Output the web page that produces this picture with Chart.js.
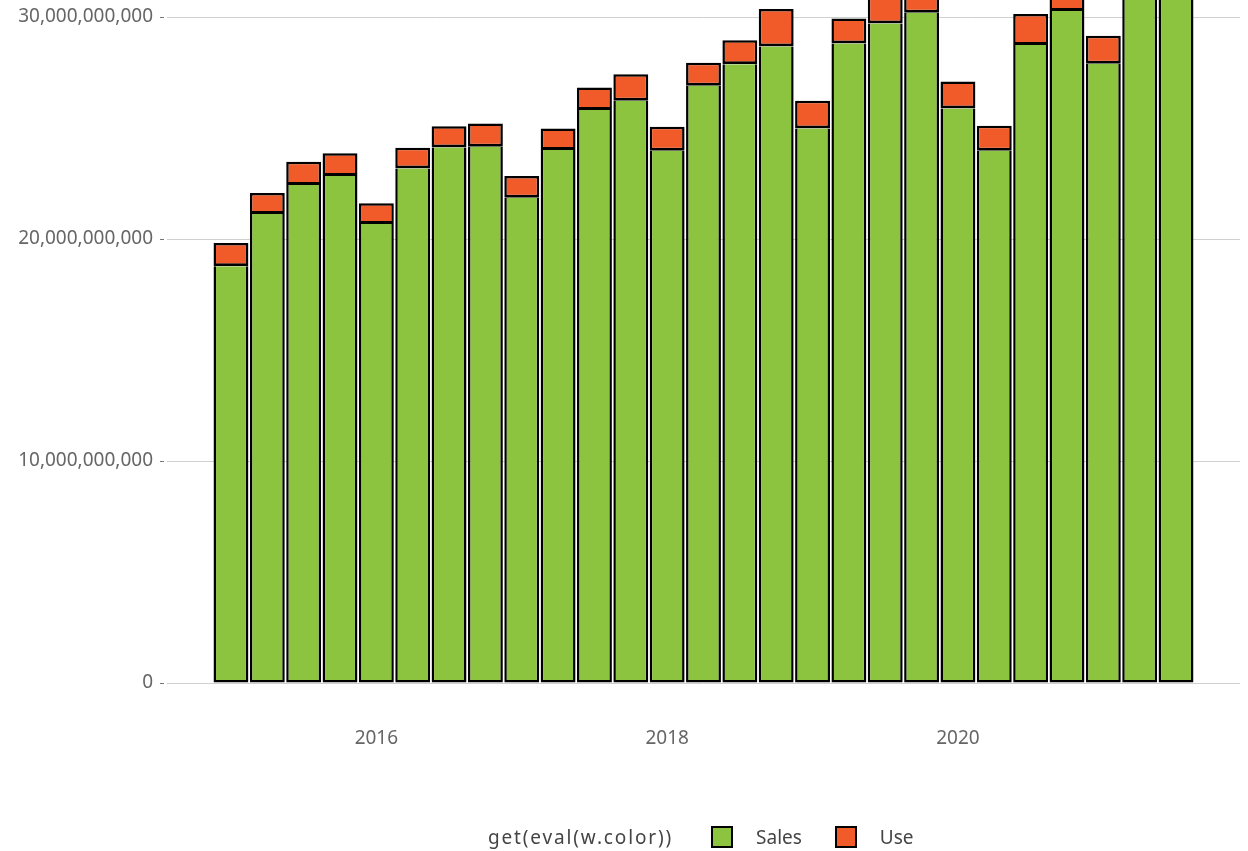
<!DOCTYPE html>
<html>
<head>
<meta charset="utf-8">
<script src="https://cdn.jsdelivr.net/npm/chart.js@4/dist/chart.umd.min.js"></script>
<style>
  html, body { margin: 0; padding: 0; background: #fff; }
  #wrap { position: relative; width: 1248px; height: 851px; }
  #taxChart { position: absolute; left: 0; top: 0; }
  #legend {
    position: absolute; left: 488px; top: 822px; height: 30px;
    display: flex; align-items: center;
    font-family: "Noto Sans", sans-serif; font-size: 19px; color: #444;
  }
  #legend .title { margin-right: 38px; letter-spacing: 1.85px; }
  #legend .item { display: flex; align-items: center; margin-right: 33px; }
  #legend .box {
    width: 18px; height: 18px; border: 2px solid #000; margin-right: 23px;
  }
</style>
</head>
<body>
<div id="wrap">
  <canvas id="taxChart" width="1248" height="851"></canvas>
  <div id="legend"></div>
</div>
<script>
const quarters = [
  '2015 Q1', '2015 Q2', '2015 Q3', '2015 Q4',
  '2016 Q1', '2016 Q2', '2016 Q3', '2016 Q4',
  '2017 Q1', '2017 Q2', '2017 Q3', '2017 Q4',
  '2018 Q1', '2018 Q2', '2018 Q3', '2018 Q4',
  '2019 Q1', '2019 Q2', '2019 Q3', '2019 Q4',
  '2020 Q1', '2020 Q2', '2020 Q3', '2020 Q4',
  '2021 Q1', '2021 Q2', '2021 Q3'
];

const salesValues = [
  18780000000, 21130000000, 22430000000, 22840000000,
  20680000000, 23180000000, 24130000000, 24160000000,
  21860000000, 24010000000, 25810000000, 26230000000,
  23980000000, 26910000000, 27870000000, 28680000000,
  24980000000, 28810000000, 29710000000, 30190000000,
  25880000000, 23980000000, 28740000000, 30270000000,
  27900000000, 31600000000, 32000000000
];

const useValues = [
  1040000000, 940000000, 1050000000, 1030000000,
  930000000, 930000000, 950000000, 1050000000,
  980000000, 970000000, 1020000000, 1200000000,
  1080000000, 1030000000, 1090000000, 1680000000,
  1250000000, 1130000000, 1200000000, 1200000000,
  1220000000, 1130000000, 1400000000, 1300000000,
  1260000000, 1300000000, 1300000000
];

const yearTicks = [2016, 2018, 2020];
const valueTicks = [0, 10000000000, 20000000000, 30000000000];

const legendTitle = 'get(eval(w.color))';

// quarter label -> decimal year at the start of the quarter
const quarterX = quarters.map(q => {
  const [year, qq] = q.split(' Q');
  return Number(year) + (Number(qq) - 1) / 4;
});

const toPoints = values => values.map((v, i) => ({ x: quarterX[i], y: v }));

const fontFamily = '"Noto Sans", sans-serif';

// drop the half-label padding Chart.js reserves at the axis ends
const noEndPadding = scale => {
  scale.paddingTop = 0;
  scale.paddingBottom = 0;
  scale.paddingLeft = 0;
  scale.paddingRight = 0;
};

const htmlLegend = {
  id: 'htmlLegend',
  afterUpdate(chart) {
    const box = document.getElementById('legend');
    box.innerHTML = '';
    const title = document.createElement('span');
    title.className = 'title';
    title.textContent = legendTitle;
    box.appendChild(title);
    chart.data.datasets.forEach(ds => {
      const item = document.createElement('span');
      item.className = 'item';
      const swatch = document.createElement('span');
      swatch.className = 'box';
      swatch.style.background = ds.backgroundColor;
      const text = document.createElement('span');
      text.textContent = ds.label;
      item.appendChild(swatch);
      item.appendChild(text);
      box.appendChild(item);
    });
  }
};

const ctx = document.getElementById('taxChart').getContext('2d');

new Chart(ctx, {
  type: 'bar',
  data: {
    datasets: [
      {
        label: 'Sales',
        data: toPoints(salesValues),
        backgroundColor: '#8cc43f',
        borderColor: '#000',
        // the seam with Use comes from the Use segment's bottom edge
        borderWidth: { top: 0, bottom: 2.5, left: 2.5, right: 2.5 },
        borderSkipped: false,
        inflateAmount: 0
      },
      {
        label: 'Use',
        data: toPoints(useValues),
        backgroundColor: '#f15a29',
        borderColor: '#000',
        borderWidth: { top: 2.5, bottom: 3, left: 2.5, right: 2.5 },
        borderSkipped: false,
        inflateAmount: 0
      }
    ]
  },
  options: {
    responsive: false,
    animation: false,
    barPercentage: 0.96,
    categoryPercentage: 1,
    layout: { padding: { top: 0, right: 8 } },
    plugins: {
      legend: { display: false },
      tooltip: { enabled: false }
    },
    scales: {
      x: {
        type: 'linear',
        stacked: true,
        offset: false,
        min: 2014.56,
        max: 2021.94,
        afterFit: scale => {
          scale.height = 168;
          noEndPadding(scale);
        },
        afterBuildTicks: scale => {
          scale.ticks = yearTicks.map(v => ({ value: v }));
        },
        grid: { display: false, drawTicks: false },
        border: { display: false },
        ticks: {
          padding: 44,
          color: '#666',
          font: { family: fontFamily, size: 19 },
          callback: v => String(v)
        }
      },
      y: {
        stacked: true,
        min: 0,
        max: 30770000000,
        afterFit: scale => {
          scale.width = 167;
          noEndPadding(scale);
        },
        afterBuildTicks: scale => {
          scale.ticks = valueTicks.map(v => ({ value: v }));
        },
        grid: {
          color: '#d0d0d0',
          lineWidth: 1,
          tickLength: 7,
          tickColor: '#777',
          tickBorderDash: [4, 3]
        },
        border: { display: false },
        ticks: {
          padding: 7,
          color: '#666',
          font: { family: fontFamily, size: 19 },
          callback: v => v.toLocaleString('en-US')
        }
      }
    }
  },
  plugins: [htmlLegend]
});
</script>
</body>
</html>
